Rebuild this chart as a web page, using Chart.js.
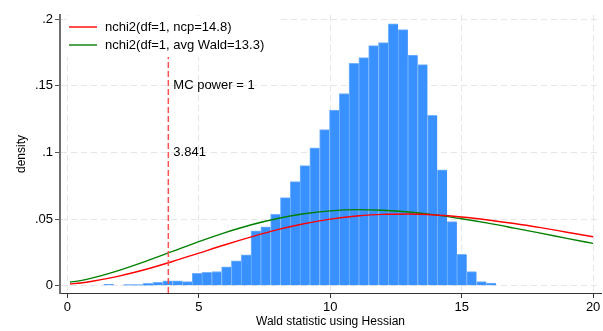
<!DOCTYPE html>
<html>
<head>
<meta charset="utf-8">
<script src="https://cdn.jsdelivr.net/npm/chart.js@4"></script>
<style>
    html, body { margin: 0; padding: 0; background: #fff; }
    #wrap { position: relative; width: 603px; height: 331px; }
</style>
</head>
<body>
<div id="wrap"><canvas id="waldChart"></canvas></div>
<script>
// Histogram of the simulated Wald statistics: bin midpoints and densities
const binMids = [1.577, 1.950, 2.323, 2.696, 3.069, 3.442, 3.815, 4.188, 4.561, 4.934,
                 5.307, 5.680, 6.053, 6.426, 6.799, 7.172, 7.545, 7.918, 8.291, 8.664,
                 9.037, 9.410, 9.783, 10.156, 10.529, 10.902, 11.275, 11.648, 12.021, 12.394,
                 12.767, 13.140, 13.513, 13.886, 14.259, 14.632, 15.005, 15.378, 15.751, 16.124];
const binDensity = [0.0010, 0, 0.0008, 0.0008, 0.0017, 0.0025, 0.0037, 0.0037, 0.0030, 0.0092,
                    0.0100, 0.0106, 0.0142, 0.0187, 0.0232, 0.0412, 0.0442, 0.0535, 0.0660, 0.0780,
                    0.0900, 0.1033, 0.1170, 0.1317, 0.1440, 0.1668, 0.1710, 0.1800, 0.1823, 0.1963,
                    0.1920, 0.1730, 0.1658, 0.1278, 0.0868, 0.0480, 0.0235, 0.0105, 0.0030, 0.0020];

// Reference curves
const curveX = [0.1, 0.5, 1, 2, 3, 4, 5, 6, 7, 8, 9, 10, 11, 12, 13, 14, 15, 16, 17, 18, 19, 20];
const ncpDensity = [0.0013, 0.0020, 0.0035, 0.0073, 0.0123, 0.0181, 0.0244, 0.0307, 0.0366, 0.0420, 0.0464,
                    0.0499, 0.0522, 0.0535, 0.0537, 0.0530, 0.0515, 0.0493, 0.0466, 0.0435, 0.0401, 0.0367];
const waldDensity = [0.0027, 0.0038, 0.0060, 0.0117, 0.0184, 0.0257, 0.0330, 0.0398, 0.0457, 0.0504, 0.0539,
                     0.0561, 0.0570, 0.0566, 0.0553, 0.0531, 0.0502, 0.0469, 0.0432, 0.0394, 0.0355, 0.0317];

const critValue = 3.841;
const legendLabels = ['nchi2(df=1, ncp=14.8)', 'nchi2(df=1, avg Wald=13.3)'];
const xTicks = [0, 5, 10, 15, 20];
const yTicks = [0, 0.05, 0.1, 0.15, 0.2];

const FONT = '"Liberation Sans", Arial, Helvetica, sans-serif';
const X_MIN = -0.28, X_MAX = 20.3;
const Y_MIN = -0.0055, Y_MAX = 0.203;
const RED = '#ff0000';
const GREEN = '#008000';

const toPoints = (xs, ys) => xs.map((v, i) => ({ x: v, y: ys[i] }));

// legend inside the plot + labels next to the critical value line
const overlayText = {
    id: 'overlayText',
    afterDatasetsDraw(chart) {
        const { ctx, chartArea, scales: { x, y } } = chart;
        ctx.save();
        ctx.font = '13px ' + FONT;
        ctx.textBaseline = 'middle';

        const px = x.getPixelForValue(critValue) + 5;
        ctx.fillStyle = '#000';
        ctx.fillText('MC power = 1', px, y.getPixelForValue(0.15));
        ctx.fillText(critValue.toFixed(3), px, y.getPixelForValue(0.1));

        // white legend box hides grid + dashed line behind it
        ctx.fillStyle = '#fff';
        ctx.fillRect(chartArea.left + 7, chartArea.top + 1, 210, 41);

        const colors = [RED, GREEN];
        legendLabels.forEach((txt, i) => {
            const ly = chartArea.top + 12 + i * 18;
            const lx = chartArea.left + 9;
            ctx.strokeStyle = colors[i];
            ctx.lineWidth = 1.4;
            ctx.beginPath();
            ctx.moveTo(lx, ly);
            ctx.lineTo(lx + 28, ly);
            ctx.stroke();
            ctx.fillStyle = '#000';
            ctx.fillText(txt, lx + 36, ly);
        });
        ctx.restore();
    }
};

new Chart(document.getElementById('waldChart'), {
    type: 'bar',
    data: {
        datasets: [
            {
                type: 'line',
                label: legendLabels[0],
                data: toPoints(curveX, ncpDensity),
                borderColor: RED,
                borderWidth: 1.4,
                pointRadius: 0,
                cubicInterpolationMode: 'monotone',
                order: 1
            },
            {
                type: 'line',
                label: legendLabels[1],
                data: toPoints(curveX, waldDensity),
                borderColor: GREEN,
                borderWidth: 1.4,
                pointRadius: 0,
                cubicInterpolationMode: 'monotone',
                order: 1
            },
            {
                type: 'line',
                label: 'critical value',
                data: [{ x: critValue, y: Y_MIN }, { x: critValue, y: Y_MAX }],
                borderColor: '#ff5050',
                borderWidth: 1.5,
                borderDash: [6, 3],
                pointRadius: 0,
                order: 0
            },
            {
                type: 'bar',
                label: 'Wald statistic',
                data: toPoints(binMids, binDensity),
                backgroundColor: '#3891ff',
                borderColor: '#74b3ff',
                borderWidth: { top: 1, left: 1, right: 0, bottom: 0 },
                borderSkipped: false,
                barPercentage: 1,
                categoryPercentage: 1,
                order: 2
            }
        ]
    },
    options: {
        responsive: true,
        maintainAspectRatio: false,
        animation: false,
        layout: { padding: { top: 15, right: 2, left: 0, bottom: 0 } },
        plugins: {
            legend: { display: false },
            tooltip: { enabled: false }
        },
        scales: {
            x: {
                type: 'linear',
                min: X_MIN,
                max: X_MAX,
                offset: false,
                afterBuildTicks: s => { s.ticks = xTicks.map(v => ({ value: v })); },
                afterFit: s => { s.height = 38; },
                grid: { color: '#e6e6e6', offset: false, tickColor: '#333', tickLength: 5, tickWidth: 1 },
                border: { display: true, color: '#333', width: 1, dash: [6, 4] },
                ticks: { color: '#000', font: { family: FONT, size: 13 }, padding: 2, maxRotation: 0 },
                title: {
                    display: true,
                    text: 'Wald statistic using Hessian',
                    color: '#000',
                    font: { family: FONT, size: 12 },
                    padding: { top: 0, bottom: 2 }
                }
            },
            y: {
                type: 'linear',
                min: Y_MIN,
                max: Y_MAX,
                afterBuildTicks: s => { s.ticks = yTicks.map(v => ({ value: v })); },
                afterFit: s => { s.width = 60; },
                grid: { color: '#e6e6e6', tickColor: '#555', tickLength: 5, tickWidth: 1 },
                border: { display: true, color: '#6e6e6e', width: 2, dash: [6, 4] },
                ticks: {
                    color: '#000',
                    font: { family: FONT, size: 13 },
                    padding: 2,
                    callback: v => v === 0 ? '0' : String(v).replace(/^0/, '')
                },
                title: {
                    display: true,
                    text: 'density',
                    color: '#000',
                    font: { family: FONT, size: 12 },
                    padding: { top: 14, bottom: 0 }
                }
            }
        }
    },
    plugins: [overlayText]
});
</script>
</body>
</html>
